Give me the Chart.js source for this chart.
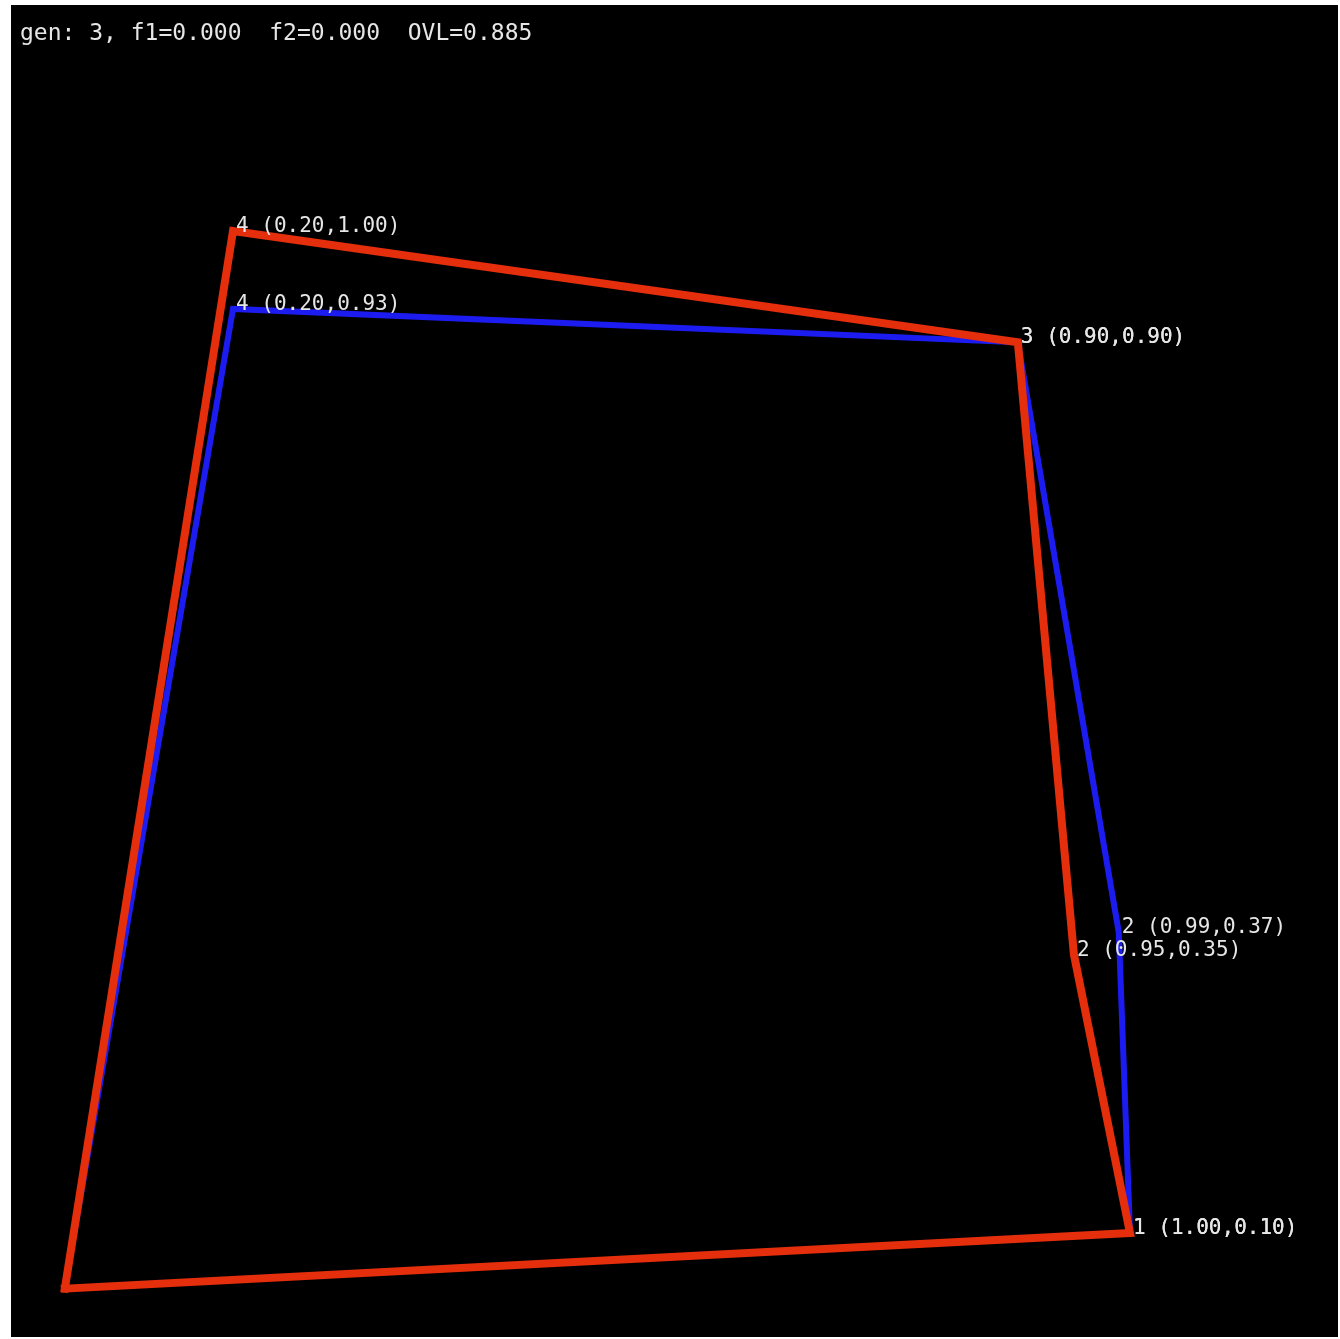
<!DOCTYPE html>
<html>
<head>
<meta charset="utf-8">
<script src="https://cdn.jsdelivr.net/npm/chart.js@4"></script>
<style>
  html, body { margin: 0; padding: 0; background: #ffffff; }
  #wrap { position: absolute; left: 11px; top: 5px; width: 1327px; height: 1332px; background: #000000; }
  canvas { display: block; }
</style>
</head>
<body>
<div id="wrap"><canvas id="c"></canvas></div>
<script>
// Data
const titleText = "gen: 3, f1=0.000  f2=0.000  OVL=0.885";
const redX  = [0.05, 1.00, 0.95, 0.90, 0.20, 0.05];
const redY  = [0.05, 0.10, 0.35, 0.90, 1.00, 0.05];
const blueX = [0.05, 1.00, 0.99, 0.90, 0.20, 0.05];
const blueY = [0.05, 0.10, 0.37, 0.90, 0.93, 0.05];
const labelIdx = [1, 2, 3, 4];   // vertices that carry a text label
const xRange = [0.00201, 1.18551];
const yRange = [0.00655, 1.2030];

const toPts = (xs, ys) => xs.map((x, i) => ({ x: x, y: ys[i] }));

const labelPlugin = {
  id: 'vertexLabels',
  afterDatasetsDraw(chart) {
    const ctx = chart.ctx;
    const xs = chart.scales.x, ys = chart.scales.y;
    ctx.save();
    ctx.fillStyle = '#e6e6e6';
    ctx.font = '21px "DejaVu Sans Mono", monospace';
    ctx.textAlign = 'left';
    ctx.textBaseline = 'alphabetic';
    const sets = [[blueX, blueY], [redX, redY]];
    sets.forEach(([X, Y]) => {
      labelIdx.forEach(i => {
        const px = xs.getPixelForValue(X[i]);
        const py = ys.getPixelForValue(Y[i]);
        const t = i + ' (' + X[i].toFixed(2) + ',' + Y[i].toFixed(2) + ')';
        ctx.fillText(t, px + 3, py + 1);
      });
    });
    ctx.font = '23px "DejaVu Sans Mono", monospace';
    ctx.fillText(titleText, 9, 35);
    ctx.restore();
  }
};

new Chart(document.getElementById('c'), {
  type: 'scatter',
  data: {
    datasets: [
      {
        label: 'red',
        data: toPts(redX, redY),
        showLine: true,
        borderColor: 'rgb(228,46,12)',
        borderWidth: 8,
        pointRadius: 0,
        tension: 0,
        fill: false,
        borderJoinStyle: 'miter',
        borderCapStyle: 'square'
      },
      {
        label: 'blue',
        data: toPts(blueX, blueY),
        showLine: true,
        borderColor: 'rgb(28,28,240)',
        borderWidth: 6,
        pointRadius: 0,
        tension: 0,
        fill: false,
        borderJoinStyle: 'miter',
        borderCapStyle: 'square'
      }
    ]
  },
  options: {
    responsive: true,
    maintainAspectRatio: false,
    animation: false,
    layout: { padding: 0 },
    plugins: { legend: { display: false }, tooltip: { enabled: false } },
    scales: {
      x: { type: 'linear', min: xRange[0], max: xRange[1], display: false },
      y: { type: 'linear', min: yRange[0], max: yRange[1], display: false }
    }
  },
  plugins: [labelPlugin]
});
</script>
</body>
</html>
